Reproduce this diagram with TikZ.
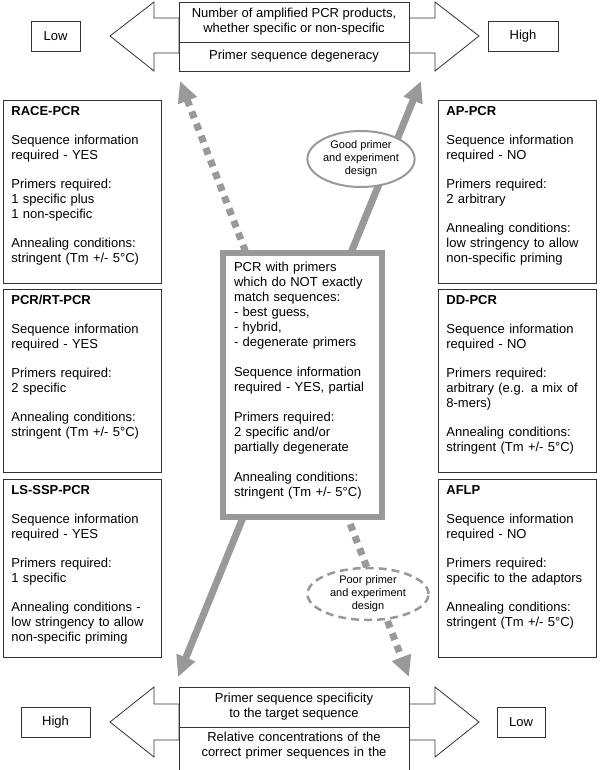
\documentclass[tikz,border=0pt]{standalone}
\usepackage{fontspec}
\setmainfont{Liberation Sans}
\usetikzlibrary{arrows.meta,shapes.geometric}

\definecolor{arrowgrey}{HTML}{999999}
\definecolor{lineblack}{HTML}{333333}

\tikzset{
  every node/.style={font=\fontsize{13}{15}\selectfont, text=black},
  outline/.style={draw=lineblack, line width=0.8pt, fill=white},
  infobox/.style={outline, anchor=north west, align=left, text width=142pt, inner xsep=8pt, inner ysep=5pt, text height=10pt},
  levelbox/.style={outline, minimum height=30pt, inner sep=0pt},
  headbox/.style={outline, align=center, minimum width=230pt, inner sep=0pt},
  corebox/.style={draw=arrowgrey, line width=6pt, fill=white, anchor=north west, align=left, text width=137pt, inner xsep=11pt, inner ysep=8pt, text height=10pt, text depth=238pt},
  designoval/.style={ellipse, draw=arrowgrey, line width=2pt, fill=white, align=center, inner sep=0pt, font=\fontsize{11}{13}\selectfont},
  greyarrow/.style={draw=arrowgrey, line width=7pt, {Triangle[length=21pt,width=19pt]}-{Triangle[length=21pt,width=19pt]}},
}

\begin{document}
\begin{tikzpicture}[x=1pt,y=1pt,yscale=-1]
\useasboundingbox (0,0) rectangle (600,770);
\clip (0,0) rectangle (600,770);
\fill[white] (0,0) rectangle (600,770);

%Ends of the two long arrows
\coordinate (degtop) at (180,81);
\coordinate (prodtop) at (421,81);
\coordinate (spechigh) at (178,677);
\coordinate (speclow) at (409,677);

%Long arrows, behind the centre box
\draw[greyarrow] (spechigh) -- (prodtop);
\draw[greyarrow, dash pattern=on 7pt off 6pt] (degtop) -- (speclow);

% Design ovals
\node[designoval, minimum width=104pt, minimum height=56pt] (goodoval) at (361,159) {Good primer\\and experiment\\design};
\node[designoval, line width=2.5pt, dash pattern=on 8pt off 5pt, minimum width=121pt, minimum height=52pt] (pooroval) at (368,594) {Poor primer\\and experiment\\design};

% Centre box
\node[corebox] (core) at (220,250) {PCR with primers\\which do NOT exactly\\match sequences:\\- best guess,\\- hybrid,\\- degenerate primers\\[15pt]Sequence information\\required - YES, partial\\[15pt]Primers required:\\2 specific and/or\\partially degenerate\\[15pt]Annealing conditions:\\stringent (Tm +/- 5°C)};

% Left column
\node[infobox, text depth=163pt] (race) at (3,100) {\textbf{RACE-PCR}\\[14pt]Sequence information\\required - YES\\[14pt]Primers required:\\1 specific plus\\1 non-specific\\[14pt]Annealing conditions:\\stringent (Tm +/- 5°C)};
\node[infobox, text depth=163pt] (rtpcr) at (3,289) {\textbf{PCR/RT-PCR}\\[14pt]Sequence information\\required - YES\\[14pt]Primers required:\\2 specific\\[14pt]Annealing conditions:\\stringent (Tm +/- 5°C)};
\node[infobox, text depth=158pt] (lssp) at (3,479) {\textbf{LS-SSP-PCR}\\[14pt]Sequence information\\required - YES\\[14pt]Primers required:\\1 specific\\[14pt]Annealing conditions -\\low stringency to allow\\non-specific priming};

% Right column
\node[infobox, text depth=163pt] (appcr) at (438,100) {\textbf{AP-PCR}\\[14pt]Sequence information\\required - NO\\[14pt]Primers required:\\2 arbitrary\\[14pt]Annealing conditions:\\low stringency to allow\\non-specific priming};
\node[infobox, text depth=163pt] (ddpcr) at (438,289) {\textbf{DD-PCR}\\[14pt]Sequence information\\required - NO\\[14pt]Primers required:\\arbitrary (e.g. a mix of\\8-mers)\\[14pt]Annealing conditions:\\stringent (Tm +/- 5°C)};
\node[infobox, text depth=158pt] (aflp) at (438,479) {\textbf{AFLP}\\[14pt]Sequence information\\required - NO\\[14pt]Primers required:\\specific to the adaptors\\[14pt]Annealing conditions:\\stringent (Tm +/- 5°C)};

%Shape: top double arrow
\draw[outline] (110,36) -- (154,2) -- (154,18) -- (179,18) -- (179,53) -- (154,53) -- (154,71) -- cycle;
\draw[outline] (479,36) -- (435,2) -- (435,18) -- (409,18) -- (409,53) -- (435,53) -- (435,71) -- cycle;
%Shape: bottom double arrow
\draw[outline] (110,722) -- (154,687) -- (154,704) -- (179,704) -- (179,740) -- (154,740) -- (154,757) -- cycle;
\draw[outline] (479,722) -- (435,687) -- (435,704) -- (409,704) -- (409,740) -- (435,740) -- (435,757) -- cycle;

% Top scale
\node[headbox, minimum height=40pt] (prodbox) at (294,22) {Number of amplified PCR products,\\whether specific or non-specific};
\node[headbox, minimum height=29pt] (degbox) at (294,56.5) {Primer sequence degeneracy};
\node[levelbox, minimum width=49pt] (toplow) at (55.5,36) {Low};
\node[levelbox, minimum width=70pt] (tophigh) at (523,36) {High};

% Bottom scale
\node[headbox, minimum height=40pt] (specbox) at (294,707) {Primer sequence specificity\\to the target sequence};
\node[outline, anchor=north, align=center, text width=222pt, inner xsep=4pt, inner ysep=4pt, text height=10pt, text depth=50pt] (concbox) at (294,727) {Relative concentrations of the\\correct primer sequences in the};
\node[levelbox, minimum width=69pt] (bothigh) at (55.5,722) {High};
\node[levelbox, minimum width=48pt] (botlow) at (521,722) {Low};

\end{tikzpicture}
\end{document}
